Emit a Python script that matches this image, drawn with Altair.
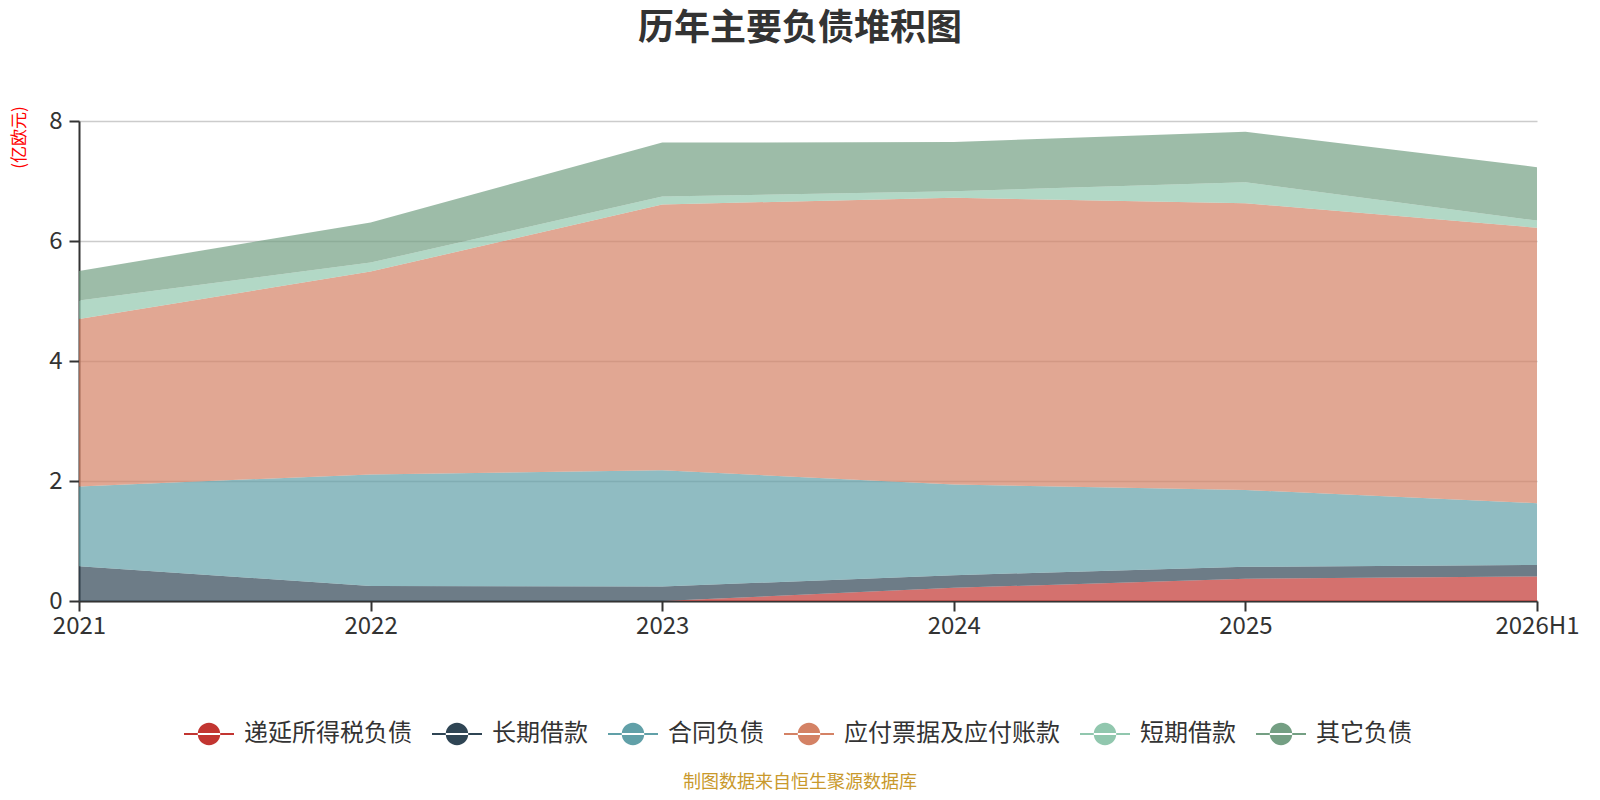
import altair as alt
import pandas as pd

years = ["2021", "2022", "2023", "2024", "2025", "2026H1"]
series = ["递延所得税负债", "长期借款", "合同负债", "应付票据及应付账款", "短期借款", "其它负债"]
colors = ["#c23531", "#2f4554", "#61a0a8", "#d48265", "#91c7ae", "#749f83"]

deferred_tax = [0.0, 0.0, 0.0, 0.22, 0.37, 0.41]
long_loan = [0.58, 0.25, 0.24, 0.21, 0.20, 0.19]
contract = [1.33, 1.86, 1.94, 1.51, 1.28, 1.03]
payables = [2.79, 3.38, 4.43, 4.78, 4.78, 4.59]
short_loan = [0.31, 0.15, 0.13, 0.11, 0.35, 0.12]
other = [0.49, 0.67, 0.90, 0.82, 0.84, 0.89]

y_ticks = [0, 2, 4, 6, 8]
title_text = "历年主要负债堆积图"
unit_text = "(亿欧元)"
note_text = "制图数据来自恒生聚源数据库"

FONT = "Noto Sans CJK SC"

values = [deferred_tax, long_loan, contract, payables, short_loan, other]
rows = []
for k, (name, vals) in enumerate(zip(series, values)):
    for yr, v in zip(years, vals):
        rows.append({"year": yr, "series": name, "value": v, "ord": k})
df = pd.DataFrame(rows)

symbol_path = ("M-1,-0.04H1V0.04H-1Z "
               "M-0.45,0A0.45,0.45 0 1,0 0.45,0A0.45,0.45 0 1,0 -0.45,0Z")

areas = alt.Chart(df).mark_area(opacity=0.7, interpolate="linear").encode(
    x=alt.X("year:O", sort=years, scale=alt.Scale(padding=0),
            axis=alt.Axis(title=None, labelAngle=0, grid=False, labelPadding=3)),
    y=alt.Y("value:Q", stack="zero", scale=alt.Scale(domain=[0, 8], nice=False),
            axis=alt.Axis(values=y_ticks, title=unit_text, titleX=-60, titleY=16,
                          titleAngle=270, titleAlign="center", titleBaseline="middle",
                          titleColor="#ff0000", titleFontSize=17, titleFontWeight="normal",
                          titleFont=FONT, grid=True, gridColor="#cccccc", gridWidth=1.5,
                          labelPadding=7)),
    color=alt.Color("series:N", sort=series,
                    scale=alt.Scale(domain=series, range=colors),
                    legend=alt.Legend(title=None, orient="none", legendX=105, legendY=588,
                                      direction="horizontal", symbolType=symbol_path,
                                      symbolSize=2500, symbolOpacity=1, symbolStrokeWidth=0,
                                      labelFontSize=24, labelColor="#333333", labelFont=FONT,
                                      labelOffset=10, columnPadding=20, labelLimit=400,
                                      padding=0)),
    order=alt.Order("ord:Q"),
)

title_layer = alt.Chart(pd.DataFrame({"t": [title_text]})).mark_text(
    fontSize=36, fontWeight="bold", color="#333333", font=FONT,
    align="center", baseline="middle",
).encode(text="t:N", x=alt.value(721), y=alt.value(-92))

note_layer = alt.Chart(pd.DataFrame({"t": [note_text]})).mark_text(
    fontSize=18, color="#c9992c", font=FONT, align="center", baseline="middle",
).encode(text="t:N", x=alt.value(721), y=alt.value(662))

chart = alt.layer(areas, title_layer, note_layer).properties(
    width=1458, height=480,
    padding={"left": 71, "top": 113, "right": 55, "bottom": 191},
    autosize=alt.AutoSizeParams(type="none"),
).configure(font=FONT).configure_view(stroke=None).configure_axis(
    labelFontSize=24, labelColor="#333333", labelFont=FONT,
    domainColor="#333333", domainWidth=2, tickColor="#333333", tickWidth=2, tickSize=10,
)

chart.save("out.html", embed_options={"renderer": "svg", "actions": False})
